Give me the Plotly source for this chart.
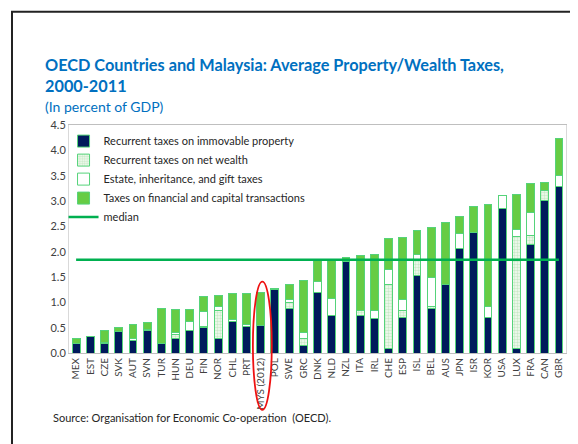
import plotly.graph_objects as go

countries = ["MEX", "EST", "CZE", "SVK", "AUT", "SVN", "TUR", "HUN", "DEU", "FIN",
             "NOR", "CHL", "PRT", "MYS (2012)", "POL", "SWE", "GRC", "DNK", "NLD", "NZL",
             "ITA", "IRL", "CHE", "ESP", "ISL", "BEL", "AUS", "JPN", "ISR", "KOR",
             "USA", "LUX", "FRA", "CAN", "GBR"]

immovable = [0.18, 0.32, 0.18, 0.42, 0.24, 0.45, 0.18, 0.28, 0.45, 0.50,
             0.28, 0.62, 0.53, 0.545, 1.25, 0.875, 0.15, 1.20, 0.735, 1.81,
             0.74, 0.68, 0.085, 0.71, 1.525, 0.88, 1.355, 2.06, 2.38, 0.70,
             2.855, 0.085, 2.14, 3.005, 3.28]

net_wealth = [0, 0, 0, 0, 0, 0, 0, 0.085, 0, 0.03,
              0.55, 0, 0, 0, 0, 0.125, 0.13, 0, 0, 0,
              0.09, 0, 1.275, 0.125, 0.315, 0.04, 0, 0, 0, 0,
              0, 2.215, 0.18, 0.21, 0]

estate = [0, 0, 0.02, 0, 0.04, 0.01, 0, 0.04, 0.18, 0.29,
          0.09, 0.04, 0.03, 0, 0, 0.05, 0.13, 0.21, 0.35, 0,
          0, 0.16, 0.28, 0.225, 0.095, 0.57, 0, 0.295, 0, 0.21,
          0.245, 0.14, 0.455, 0, 0.225]

financial = [0.11, 0.0, 0.25, 0.08, 0.29, 0.15, 0.69, 0.45, 0.225, 0.29,
             0.22, 0.52, 0.62, 0.655, 0.03, 0.31, 1.03, 0.42, 0.745, 0.08,
             1.09, 1.10, 0.615, 1.21, 0.475, 0.98, 1.225, 0.33, 0.51, 2.02,
             0.0, 0.68, 0.565, 0.16, 0.735]

median_value = 1.84
median = [median_value] * len(countries)

y_ticks = [0, 0.5, 1.0, 1.5, 2.0, 2.5, 3.0, 3.5, 4.0, 4.5]

OUTLINE = "#55d37a"
FONT = "Lato"

fig = go.Figure()
fig.add_trace(go.Bar(x=countries, y=immovable, name="Recurrent taxes on immovable property",
                     marker=dict(color="#001a5c", line=dict(color=OUTLINE, width=1))))
fig.add_trace(go.Bar(x=countries, y=net_wealth, name="Recurrent taxes on net wealth",
                     marker=dict(color="white", line=dict(color=OUTLINE, width=1),
                                 pattern=dict(shape=".", fgcolor="#9ed89e", bgcolor="#f4fbf2",
                                              size=3, solidity=0.5))))
fig.add_trace(go.Bar(x=countries, y=estate, name="Estate, inheritance, and gift taxes",
                     marker=dict(color="white", line=dict(color=OUTLINE, width=1))))
fig.add_trace(go.Bar(x=countries, y=financial, name="Taxes on financial and capital transactions",
                     marker=dict(color="#66cc44", line=dict(color=OUTLINE, width=1))))
fig.add_trace(go.Scatter(x=countries, y=median, name="median", mode="lines",
                         line=dict(color="#00b050", width=2.5)))

fig.update_layout(
    width=570, height=436,
    barmode="stack", bargap=0.45,
    plot_bgcolor="white", paper_bgcolor="white",
    margin=dict(l=61, r=12, t=117, b=91, autoexpand=False),
    font=dict(family=FONT, color="#404040"),
    showlegend=True,
    legend=dict(x=-0.011, y=0.993, xanchor="left", yanchor="top",
                traceorder="normal", bgcolor="rgba(0,0,0,0)",
                font=dict(family=FONT, size=11, color="#262626"),
                tracegroupgap=0, itemwidth=30),
    xaxis=dict(type="category", tickangle=-90, tickfont=dict(size=10, color="#404040"),
               showline=True, linecolor="#bfbfbf", linewidth=1, mirror=True,
               ticks="", showgrid=False, automargin=False),
    yaxis=dict(range=[0, 4.5], tickvals=y_ticks, tickformat=".1f",
               tickfont=dict(size=11, color="#404040"),
               showline=True, linecolor="#d9d9d9", linewidth=1, mirror=True,
               ticks="", showgrid=False, zeroline=False, automargin=False),
)

fig.add_annotation(text="<b>OECD Countries and Malaysia: Average Property/Wealth Taxes,</b>",
                   xref="paper", yref="paper", x=-0.052, y=1.2645, xanchor="left", yanchor="middle",
                   showarrow=False, font=dict(family=FONT, size=16.3, color="#0070c0"))
fig.add_annotation(text="<b>2000-2011</b>",
                   xref="paper", yref="paper", x=-0.052, y=1.172, xanchor="left", yanchor="middle",
                   showarrow=False, font=dict(family=FONT, size=16.3, color="#0070c0"))
fig.add_annotation(text="(In percent of GDP)",
                   xref="paper", yref="paper", x=-0.052, y=1.080, xanchor="left", yanchor="middle",
                   showarrow=False, font=dict(family=FONT, size=14, color="#0070c0"))
fig.add_annotation(text="Source: Organisation for Economic Co-operation  (OECD).",
                   xref="paper", yref="paper", x=-0.036, y=-0.285, xanchor="left", yanchor="middle",
                   showarrow=False, font=dict(family=FONT, size=11, color="#262626"))

# outer frame
fig.add_shape(type="rect", xref="paper", yref="paper", x0=-0.1147, y0=-0.6, x1=1.2, y1=1.497,
              line=dict(color="#222222", width=2), fillcolor="rgba(0,0,0,0)", layer="above")
# red ellipse around Malaysia
fig.add_shape(type="circle", xref="paper", yref="paper", x0=0.370, y0=-0.249, x1=0.408, y1=0.313,
              line=dict(color="#ee1111", width=1.8), layer="above")

fig.write_html("out.html")
